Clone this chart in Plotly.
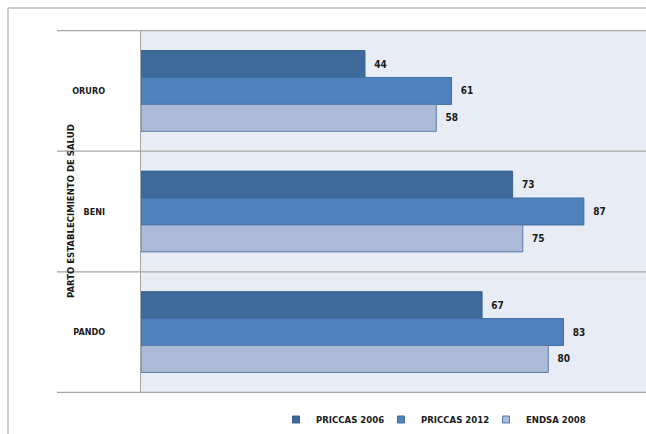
import plotly.graph_objects as go

categories = ["ORURO", "BENI", "PANDO"]
series_names = ["PRICCAS 2006", "PRICCAS 2012", "ENDSA 2008"]
priccas_2006 = [44, 73, 67]
priccas_2012 = [61, 87, 83]
endsa_2008 = [58, 75, 80]
axis_title = "PARTO ESTABLECIMIENTO DE SALUD"

values = [priccas_2006, priccas_2012, endsa_2008]
fills = ["#3E6A9B", "#4F81BD", "#AABAD7"]
edges = ["#3A6290", "#3F6DA6", "#5B7CAA"]

FONT = "DejaVu Sans Condensed, Liberation Sans, sans-serif"
W, H = 646, 434
L, R, T, B = 141, 0, 30, 41
pw, ph = W - L - R, H - T - B

fig = go.Figure()
for name, vals, fc, ec in zip(series_names, values, fills, edges):
    fig.add_trace(go.Bar(
        y=categories, x=vals, name=name, orientation="h",
        marker=dict(color=fc, line=dict(color=ec, width=1)),
        text=[str(v) for v in vals], texttemplate="  %{text}", textposition="outside",
        textfont=dict(family=FONT, size=10, color="#1a1a1a", weight="bold"),
        cliponaxis=False, showlegend=False,
    ))
# legend entries with small square swatches
for name, fc, ec in zip(series_names, fills, edges):
    fig.add_trace(go.Scatter(
        x=[None], y=[None], mode="markers", name=name,
        marker=dict(symbol="square", size=7, color=fc, line=dict(color=ec, width=1)),
    ))

def px_x(px):
    return (px - L) / pw

def px_y(py):
    return (H - B - py) / ph

shapes = []
for b in [-0.5, 0.5, 1.5, 2.5]:
    shapes.append(dict(type="line", xref="paper", yref="y", x0=px_x(57), x1=1,
                       y0=b, y1=b, line=dict(color="#A6A6A6", width=1.3), layer="above"))
# outer chart border (top and left edges visible)
shapes.append(dict(type="line", xref="paper", yref="paper", x0=px_x(8), x1=px_x(8),
                   y0=px_y(8), y1=px_y(440), line=dict(color="#BDBDBD", width=1.5)))
shapes.append(dict(type="line", xref="paper", yref="paper", x0=px_x(8), x1=px_x(650),
                   y0=px_y(8), y1=px_y(8), line=dict(color="#BDBDBD", width=1.5)))

fig.update_layout(
    width=W, height=H,
    margin=dict(l=L, r=R, t=T, b=B),
    paper_bgcolor="white", plot_bgcolor="#E8ECF4",
    barmode="group", bargap=0.33, bargroupgap=0,
    showlegend=True,
    legend=dict(orientation="h", x=px_x(276), xanchor="left", y=px_y(420), yanchor="middle",
                font=dict(family=FONT, size=9.5, color="#1a1a1a", weight="bold"),
                itemwidth=30, entrywidth=60, entrywidthmode="pixels",
                tracegroupgap=0, bgcolor="rgba(0,0,0,0)"),
    xaxis=dict(range=[0, 99.2], showgrid=False, showticklabels=False, zeroline=False,
               showline=False, ticks=""),
    yaxis=dict(autorange="reversed", showgrid=False, zeroline=False,
               showline=True, linecolor="#A6A6A6", linewidth=1.3,
               ticks="", ticklabelstandoff=33,
               tickfont=dict(family=FONT, size=9, color="#1a1a1a", weight="bold")),
    shapes=shapes,
    annotations=[dict(text=axis_title, xref="paper", yref="paper", x=px_x(70), y=px_y(211),
                      xanchor="center", yanchor="middle", textangle=-90, showarrow=False,
                      font=dict(family=FONT, size=9.5, color="#1a1a1a", weight="bold"))],
)

fig.write_html("out.html")
